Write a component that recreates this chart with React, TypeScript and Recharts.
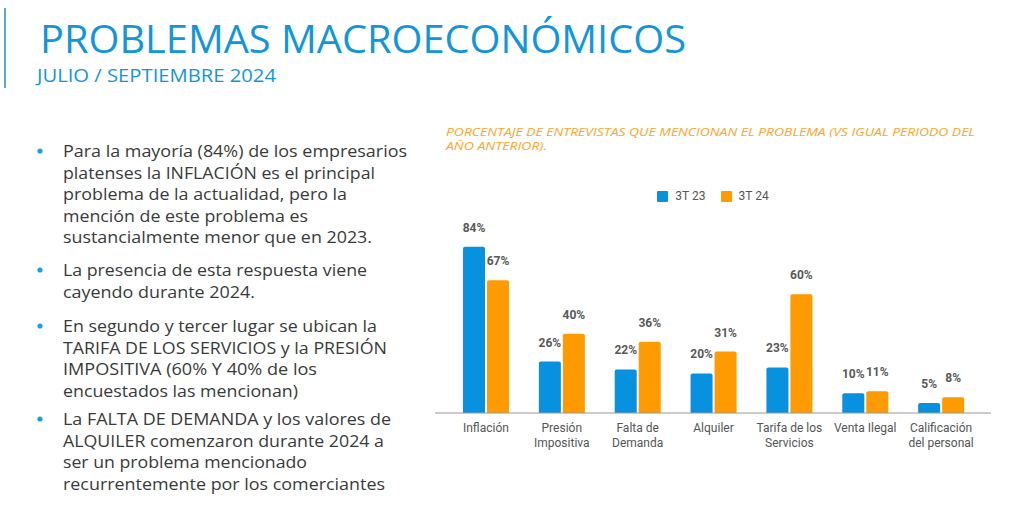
import React from 'react';
import { BarChart, Bar, XAxis, YAxis, Legend, LabelList } from 'recharts';

const categories = ['Inflación', 'Presión Impositiva', 'Falta de Demanda', 'Alquiler', 'Tarifa de los Servicios', 'Venta Ilegal', 'Calificación del personal'];
const tickLines = [['Inflación'], ['Presión', 'Impositiva'], ['Falta de', 'Demanda'], ['Alquiler'], ['Tarifa de los', 'Servicios'], ['Venta Ilegal'], ['Calificación', 'del personal']];
const serie3T23 = [84, 26, 22, 20, 23, 10, 5];
const serie3T24 = [67, 40, 36, 31, 60, 11, 8];
const seriesNames = ['3T 23', '3T 24'];

const title = 'PROBLEMAS MACROECONÓMICOS';
const subtitle = 'JULIO / SEPTIEMBRE 2024';
const chartTitleLines = ['PORCENTAJE DE ENTREVISTAS QUE MENCIONAN EL PROBLEMA (VS IGUAL PERIODO DEL', 'AÑO ANTERIOR).'];
const bullets = [
  ['Para la mayoría (84%) de los empresarios', 'platenses la INFLACIÓN es el principal', 'problema de la actualidad, pero la', 'mención de este problema es', 'sustancialmente menor que en 2023.'],
  ['La presencia de esta respuesta viene', 'cayendo durante 2024.'],
  ['En segundo y tercer lugar se ubican la', 'TARIFA DE LOS SERVICIOS y la PRESIÓN', 'IMPOSITIVA (60% Y 40% de los', 'encuestados las mencionan)'],
  ['La FALTA DE DEMANDA y los valores de', 'ALQUILER comenzaron durante 2024 a', 'ser un problema mencionado', 'recurrentemente por los comerciantes'],
];
const bulletLineWidths = [[344, 312, 284, 245, 309], [304, 192], [314, 324, 254, 235], [328, 321, 244, 322]];
const bulletBaselines = [157, 276, 332, 425];

const BLUE = '#0791DF';
const ORANGE = '#FF9A00';

const data = categories.map((c, i) => ({ name: c, a: serie3T23[i], b: serie3T24[i] }));

const Tick = (props: any) => {
  const { x, y, payload } = props;
  const idx = categories.indexOf(payload.value);
  const lines = idx >= 0 ? tickLines[idx] : [payload.value];
  return (
    <g transform={`translate(${x},${y})`}>
      <text textAnchor="middle" fill="#555" fontSize={12} fontFamily="Roboto, Arial, sans-serif">
        {lines.map((l, i) => (
          <tspan key={i} x={0} y={19 + i * 15}>{l}</tspan>
        ))}
      </text>
    </g>
  );
};

const LegendContent = () => (
  <div style={{ display: 'flex', justifyContent: 'center', alignItems: 'center', height: 20, fontFamily: 'Roboto, Arial, sans-serif', fontSize: 12, color: '#555' }}>
    {seriesNames.map((n, i) => (
      <div key={n} style={{ display: 'flex', alignItems: 'center', marginLeft: i === 0 ? 0 : 15 }}>
        <span style={{ display: 'inline-block', width: 11, height: 11, background: i === 0 ? BLUE : ORANGE, borderRadius: 1, marginRight: 7 }} />
        <span>{n}</span>
      </div>
    ))}
  </div>
);

export default function App() {
  return (
    <div style={{ position: 'absolute', left: 0, top: 0, width: 1024, height: 514, background: '#fff', overflow: 'hidden' }}>
      <svg width={1024} height={514} style={{ position: 'absolute', left: 0, top: 0 }}>
        <line x1={5} y1={8} x2={5} y2={88} stroke="#1296DB" strokeWidth={1.5} />
        <text x={40} y={53} fontFamily="'Open Sans', sans-serif" fontSize={38} fill="#1296DB" textLength={646} lengthAdjust="spacingAndGlyphs">{title}</text>
        <text x={37} y={82} fontFamily="'Open Sans', sans-serif" fontSize={19} fill="#1296DB" textLength={239} lengthAdjust="spacingAndGlyphs">{subtitle}</text>
        {chartTitleLines.map((l, i) => (
          <text key={i} x={446} y={136 + i * 14} fontFamily="'Open Sans', sans-serif" fontStyle="italic" fontSize={10.5} fill="#FFA51F"
            textLength={i === 0 ? 529 : 101} lengthAdjust="spacingAndGlyphs">{l}</text>
        ))}
        {bullets.map((p, pi) => (
          <g key={pi}>
            <circle cx={40} cy={bulletBaselines[pi] - 6} r={2.6} fill="#1BA1E2" />
            {p.map((l, li) => (
              <text key={li} x={63} y={bulletBaselines[pi] + li * 21.6} fontFamily="'Open Sans', sans-serif" fontSize={16} fill="#3a3a3a"
                textLength={bulletLineWidths[pi][li]} lengthAdjust="spacingAndGlyphs">{l}</text>
            ))}
          </g>
        ))}
      </svg>
      <div style={{ position: 'absolute', left: 420, top: 170 }}>
        <BarChart width={600} height={300} data={data} margin={{ top: 25, right: 29, bottom: 17, left: 15 }} barSize={22} barGap={2}>
          <XAxis dataKey="name" height={40} interval={0} tick={<Tick />} tickLine={false} tickSize={0} tickMargin={0}
            axisLine={{ stroke: '#999', strokeWidth: 1 }} padding={{ left: 13, right: 12 }} />
          <YAxis hide domain={[0, 100]} />
          <Legend verticalAlign="top" align="center" content={<LegendContent />} wrapperStyle={{ top: 16 }} />
          <Bar dataKey="a" name={seriesNames[0]} fill={BLUE} radius={[2, 2, 0, 0]} isAnimationActive={false}>
            <LabelList dataKey="a" position="top" offset={15} formatter={(v: any) => `${v}%`} fill="#595959" fontSize={12} fontWeight="bold" fontFamily="Roboto, Arial, sans-serif" />
          </Bar>
          <Bar dataKey="b" name={seriesNames[1]} fill={ORANGE} radius={[2, 2, 0, 0]} isAnimationActive={false}>
            <LabelList dataKey="b" position="top" offset={15} formatter={(v: any) => `${v}%`} fill="#595959" fontSize={12} fontWeight="bold" fontFamily="Roboto, Arial, sans-serif" />
          </Bar>
        </BarChart>
      </div>
    </div>
  );
}
